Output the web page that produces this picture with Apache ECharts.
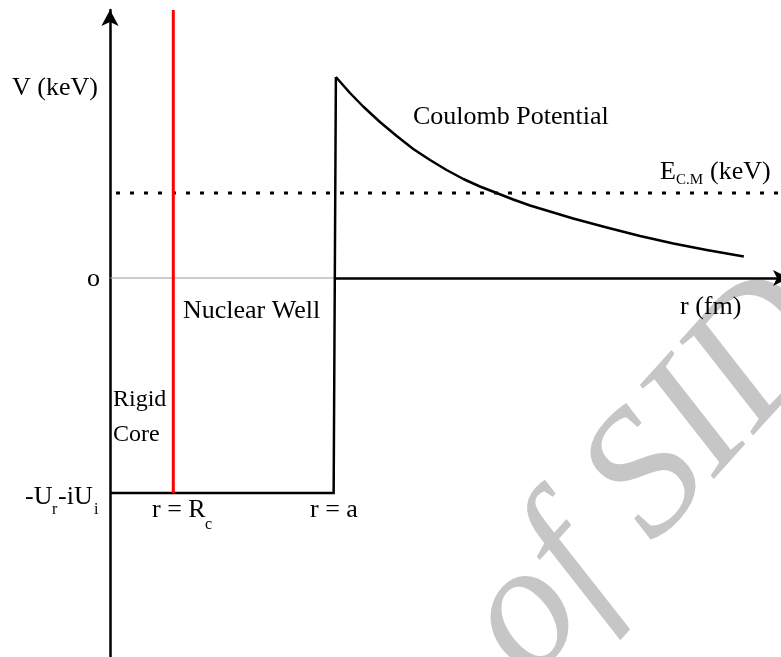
<!DOCTYPE html>
<html><head><meta charset="utf-8">
<script src="https://cdn.jsdelivr.net/npm/echarts@6/dist/echarts.min.js"></script>
<style>html,body{margin:0;padding:0;background:#fff}#c{width:781px;height:657px}</style>
</head><body><div id="c"></div>
<script>
// Schematic axes: r (fm) and V (keV), arbitrary schematic units
const rRange = [0, 30.36];   // the r axis arrow tip runs just past the right edge
const vRange = [-3.79, 2.68];
const coreRadius = 2.83;   // r = Rc
const wellRadius = 10.0;   // r = a
const wellDepth = -2.15;   // -Ur - iUi
const energyCM = 0.85;     // E_C.M
const coulombR = [10.10, 10.73, 11.32, 12.07, 12.82, 13.56, 14.31, 15.05, 15.80, 16.54, 17.29, 18.03, 18.78, 20.71, 22.21, 23.70, 25.19, 26.68, 28.34];
const coulombV = [2.01, 1.85, 1.715, 1.56, 1.42, 1.29, 1.18, 1.08, 0.99, 0.915, 0.85, 0.785, 0.725, 0.595, 0.505, 0.42, 0.345, 0.28, 0.215];

// texts
const axisTitleV = 'V (keV)';
const axisTitleR = 'r (fm)';
const zeroLabel = 'o';
const annotations = ['Coulomb Potential', 'Nuclear Well', 'Rigid', 'Core'];
const watermarkText = 'of SID';

const FONT = '"Liberation Serif", "Times New Roman", serif';
function txt(text, x, y, size, extra) {
  return Object.assign({
    type: 'text', x: x, y: y, z: 10,
    style: { text: text, font: size + 'px ' + FONT, fill: '#000',
             align: 'left', verticalAlign: 'middle', textAlign: 'left', textVerticalAlign: 'middle' }
  }, extra || {});
}

const chart = echarts.init(document.getElementById('c'), null, { renderer: 'canvas' });
const coulombData = coulombR.map((r, i) => [r, coulombV[i]]);

const option = {
  animation: false,
  backgroundColor: '#fff',
  grid: { left: 110, right: -8, top: 10, bottom: 0, outerBoundsMode: 'none', containLabel: false },
  xAxis: {
    type: 'value', min: rRange[0], max: rRange[1],
    axisLine: { show: false }, axisTick: { show: false }, axisLabel: { show: false }, splitLine: { show: false }
  },
  yAxis: {
    type: 'value', min: vRange[0], max: vRange[1],
    axisLine: { show: true, onZero: false, symbol: ['none', 'arrow'], symbolSize: [13, 16], symbolOffset: [0, 0],
                lineStyle: { color: '#000', width: 2.5 } },
    axisTick: { show: false }, axisLabel: { show: false }, splitLine: { show: false }
  },
  series: [
    { // thin zero line inside the well
      type: 'line', symbol: 'none', silent: true,
      data: [[rRange[0], 0], [coulombR[0], 0]],
      lineStyle: { color: '#999', width: 1 }
    },
    { // r axis with arrow
      type: 'line', symbol: 'none', silent: true, data: [],
      markLine: {
        silent: true, symbol: ['none', 'arrow'], symbolSize: [12, 16],
        label: { show: false },
        lineStyle: { color: '#000', width: 2.5, type: 'solid' },
        data: [[{ coord: [coulombR[0], 0] }, { coord: [rRange[1], 0] }]]
      }
    },
    { // E_CM dotted
      type: 'line', symbol: 'none', silent: true,
      data: [[rRange[0], energyCM], [rRange[1], energyCM]],
      lineStyle: { color: '#000', width: 3, type: [4, 10], dashOffset: 8 }
    },
    { // nuclear well
      type: 'line', symbol: 'none', silent: true,
      data: [[rRange[0], wellDepth], [wellRadius, wellDepth], [coulombR[0], coulombV[0]]],
      lineStyle: { color: '#000', width: 2.5, join: 'miter' }
    },
    { // rigid core radius
      type: 'line', symbol: 'none', silent: true,
      data: [[coreRadius, wellDepth], [coreRadius, vRange[1]]],
      lineStyle: { color: '#ff0000', width: 3 }
    },
    { // Coulomb potential
      type: 'line', symbol: 'none', silent: true, smooth: false,
      data: coulombData,
      lineStyle: { color: '#000', width: 2.5, join: 'round' }
    }
  ],
  graphic: { elements: [
    { type: 'text', x: 536, y: 688, rotation: 48 * Math.PI / 180, z: -1, silent: true,
      style: { text: watermarkText, font: 'italic 180px ' + FONT, fill: '#c6c6c6',
               align: 'left', verticalAlign: 'middle', textAlign: 'left', textVerticalAlign: 'middle', y: -55 } },
    txt(axisTitleV, 12, 88, 26),
    txt(zeroLabel, 87, 279, 26),
    txt(annotations[0], 413, 117, 26),
    txt(annotations[1], 183, 311, 26),
    txt(axisTitleR, 680, 307, 26),
    txt('E', 660, 172, 26), txt('C.M', 676, 180, 15), txt('(keV)', 710, 172, 26),
    txt(annotations[2], 113, 400, 24), txt(annotations[3], 113, 435, 24),
    txt('-U', 25, 497, 26), txt('r', 52, 510, 16), txt('-iU', 58, 497, 26), txt('i', 94, 510, 16),
    txt('r = R', 152, 510, 26), txt('c', 205, 525, 16),
    txt('r = a', 310, 510, 26)
  ] }
};
chart.setOption(option);
</script>
</body></html>
